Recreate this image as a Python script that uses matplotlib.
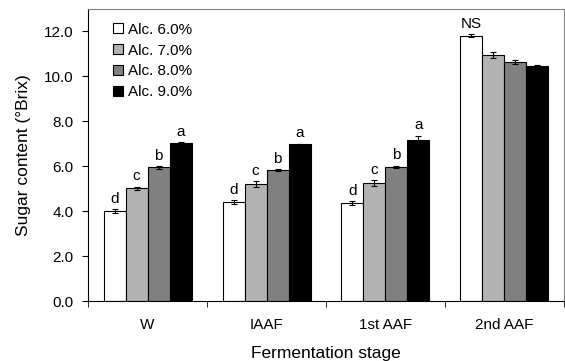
import numpy as np
import matplotlib.pyplot as plt
from matplotlib.ticker import FixedLocator, NullFormatter

plt.rcParams['font.family'] = ['Liberation Sans', 'DejaVu Sans']

stages = ['W', 'IAAF', '1st AAF', '2nd AAF']
series = ['Alc. 6.0%', 'Alc. 7.0%', 'Alc. 8.0%', 'Alc. 9.0%']
values = np.array([
    [4.00, 4.40, 4.37, 11.82],
    [5.03, 5.20, 5.25, 10.97],
    [5.95, 5.83, 5.97, 10.64],
    [7.05, 6.98, 7.15, 10.47],
])
errors = np.array([
    [0.10, 0.10, 0.08, 0.05],
    [0.07, 0.13, 0.12, 0.13],
    [0.05, 0.04, 0.05, 0.10],
    [0.03, 0.03, 0.22, 0.04],
])
letters = [
    ['d', 'd', 'd', 'NS'],
    ['c', 'c', 'c', ''],
    ['b', 'b', 'b', ''],
    ['a', 'a', 'a', ''],
]
colors = ['white', '#b3b3b3', '#808080', 'black']

fig = plt.figure(figsize=(5.65, 3.61), dpi=100)
ax = fig.add_axes([0.156, 0.166, 0.842, 0.809])

centers = np.arange(len(stages)) + 0.5
w = 0.185
for i in range(4):
    x = centers + (i - 1.5) * w
    ax.bar(x, values[i], w, color=colors[i], edgecolor='black', linewidth=0.8,
           label=series[i], zorder=2)
    ax.errorbar(x, values[i], yerr=errors[i], fmt='none', ecolor='black',
                elinewidth=0.8, capsize=2.5, capthick=0.8, zorder=3)
    for j in range(len(stages)):
        if letters[i][j]:
            ax.text(x[j], values[i][j] + errors[i][j] + 0.15, letters[i][j],
                    ha='center', va='bottom', fontsize=11)

ax.set_xlim(0, 4)
ax.set_ylim(0, 13)
ax.set_yticks(np.arange(0, 13, 2))
ax.set_yticklabels([f'{v:.1f}' for v in np.arange(0, 13, 2)], fontsize=11)
ax.set_xticks(centers)
ax.set_xticklabels(stages, fontsize=11)
ax.tick_params(axis='x', which='major', length=0, pad=12)
ax.xaxis.set_minor_locator(FixedLocator(np.arange(0, 5)))
ax.xaxis.set_minor_formatter(NullFormatter())
ax.tick_params(axis='x', which='minor', length=4, direction='out')
ax.tick_params(axis='y', length=4, direction='out', pad=6.5)
for s in ax.spines.values():
    s.set_linewidth(0.8)
ax.spines['top'].set_color('#808080')
ax.spines['right'].set_color('#808080')

ax.set_xlabel('Fermentation stage', fontsize=12.5, labelpad=10)
ax.set_ylabel('Sugar content (°Brix)', fontsize=12.5, labelpad=9)

ax.legend(loc='upper left', bbox_to_anchor=(0.03, 0.99), frameon=False,
          fontsize=11, handlelength=0.65, handleheight=0.65,
          handletextpad=0.3, labelspacing=0.45, borderaxespad=0.3)

fig.savefig('out.png', dpi=100)
